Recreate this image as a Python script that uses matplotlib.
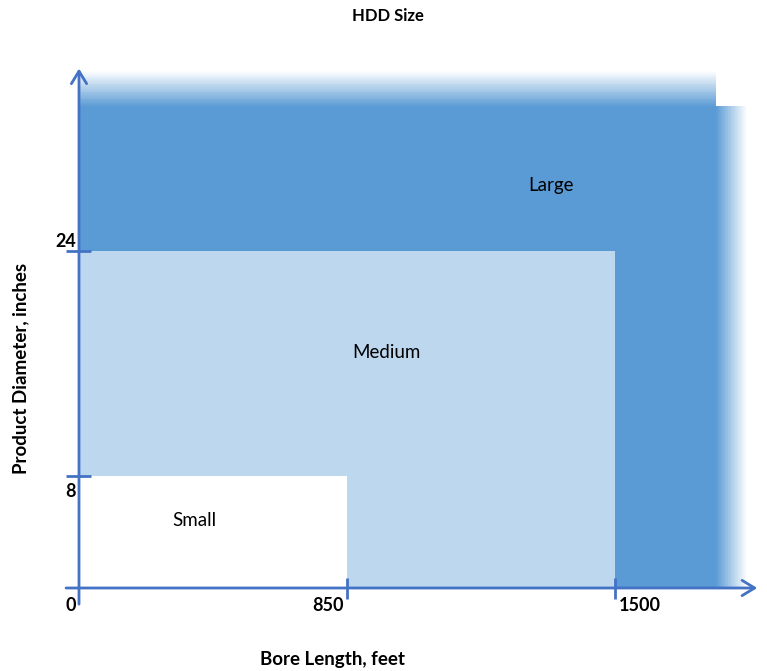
import matplotlib.pyplot as plt
import numpy as np

plt.rcParams['font.family'] = ['Lato', 'DejaVu Sans']

# HDD size classes: upper bore length (ft) and upper product diameter (in)
sizes = ['Small', 'Medium', 'Large']
bore_length = [850, 1500, 1745]
diameter = [8, 24, 34.3]

x_ticks = [0, 850, 1500]
y_ticks = [0, 8, 24]

colors = {'Small': 'white', 'Medium': '#BDD7EE', 'Large': '#5B9BD5'}
axis_color = '#4472C4'

# x axis is schematic: the tick values sit at equal spacing
knots = np.array(x_ticks, dtype=float)
steps = np.arange(len(knots), dtype=float)


def fwd(x):
    x = np.asarray(x, dtype=float)
    out = np.interp(x, knots, steps)
    out = np.where(x < knots[0], (x - knots[0]) / (knots[1] - knots[0]), out)
    out = np.where(x > knots[-1], steps[-1] + (x - knots[-1]) / (knots[-1] - knots[-2]), out)
    return out


def inv(p):
    p = np.asarray(p, dtype=float)
    out = np.interp(p, steps, knots)
    out = np.where(p < steps[0], knots[0] + p * (knots[1] - knots[0]), out)
    out = np.where(p > steps[-1], knots[-1] + (p - steps[-1]) * (knots[-1] - knots[-2]), out)
    return out


fig = plt.figure(figsize=(7.67, 6.71), dpi=100)
ax = fig.add_axes([0, 0, 1, 1])
ax.set_xscale('function', functions=(fwd, inv))
ax.set_xlim(inv(-79 / 268), inv(688 / 268))
ax.set_ylim(-83 / 14.04, 588 / 14.04)
ax.axis('off')

# Large region with soft top and right edges
L, D = bore_length[2], diameter[2]
ax.fill_between([0, L], 0, D, color=colors['Large'], lw=0)
n = 40
fade_h = 2.5
fade_w = 75
for i in range(n):
    a = 1 - (i + 0.5) / n
    ax.fill_between([0, L], D + i * fade_h / n, D + (i + 1) * fade_h / n,
                    color=colors['Large'], alpha=a, lw=0)
    ax.fill_between([L + i * fade_w / n, L + (i + 1) * fade_w / n], 0, D,
                    color=colors['Large'], alpha=a, lw=0)

for s, bl, d in list(zip(sizes, bore_length, diameter))[1::-1]:
    ax.fill_between([0, bl], 0, d, color=colors[s], lw=0)

# axes with arrow heads
arrow = dict(arrowstyle='->, head_length=0.9, head_width=0.55', color=axis_color,
             lw=2, shrinkA=0, shrinkB=0)
ax.annotate('', xy=(0, 37.0), xytext=(0, -1.15), arrowprops=arrow)
ax.annotate('', xy=(1845, 0), xytext=(-41, 0), arrowprops=arrow)

# tick marks
for v in y_ticks[1:]:
    ax.plot([-41, 38], [v, v], color=axis_color, lw=2, solid_capstyle='butt')
for v in x_ticks[1:]:
    ax.plot([v, v], [0.71, -0.8], color=axis_color, lw=2, solid_capstyle='butt')

# tick labels
tk = dict(fontsize=13, fontweight='bold', color='black')
ax.text(-10, 24.7, '24', ha='right', va='center', **tk)
ax.text(-10, 6.84, '8', ha='right', va='center', **tk)
ax.text(-10, -1.25, '0', ha='right', va='center', **tk)
ax.text(790, -1.25, '850', ha='center', va='center', **tk)
ax.text(1560, -1.25, '1500', ha='center', va='center', **tk)

# class labels
lbl = dict(fontsize=13.5, ha='center', va='center', color='black')
ax.text(1345, 28.7, 'Large', **lbl)
ax.text(945, 16.8, 'Medium', **lbl)
ax.text(365, 4.84, 'Small', **lbl)

fig.text(388 / 767, 1 - 16 / 671, 'HDD Size', ha='center', va='center',
         fontsize=12, fontweight='bold')
fig.text(333 / 767, 1 - 660 / 671, 'Bore Length, feet', ha='center', va='center',
         fontsize=13.5, fontweight='bold')
fig.text(21 / 767, 1 - 368 / 671, 'Product Diameter, inches', ha='center', va='center',
         rotation=90, fontsize=13.5, fontweight='bold')

fig.savefig('out.png', dpi=100)
